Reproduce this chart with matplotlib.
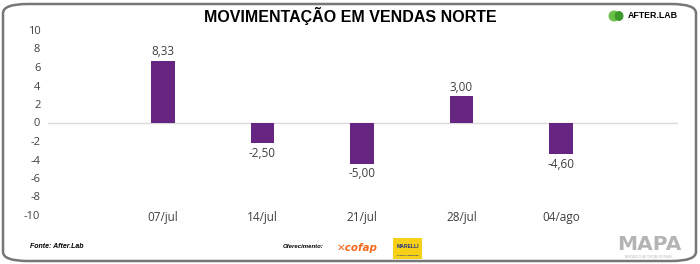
import matplotlib
matplotlib.use("Agg")
import matplotlib.pyplot as plt
from matplotlib.patches import FancyBboxPatch, Rectangle, Ellipse

# dados do gráfico
weeks = ["07/jul", "14/jul", "21/jul", "28/jul", "04/ago"]
label_values = [8.33, -2.50, -5.00, 3.00, -4.60]
# alturas das barras como aparecem no desenho (eixo de -10 a 10)
bar_heights = [6.65, -2.25, -4.5, 2.85, -3.45]
y_ticks = [10, 8, 6, 4, 2, 0, -2, -4, -6, -8, -10]

PURPLE = "#652581"
TEXT = "#404040"
W, H = 700, 264


def fx(px):
    return px / W


def fy(py):
    return 1 - py / H


fig = plt.figure(figsize=(7, 2.64), dpi=100)

# moldura arredondada
frame = FancyBboxPatch((fx(3), 3 / H), 693 / W, 257 / H,
                       boxstyle="round,pad=0,rounding_size=0.035",
                       transform=fig.transFigure, facecolor="none",
                       edgecolor="#777777", linewidth=1.8, zorder=5)
fig.patches.append(frame)

ax = fig.add_axes([fx(48), 49 / H, 630 / W, 185 / H])
ax.set_facecolor("none")
x = list(range(len(weeks)))
ax.bar(x, bar_heights, width=0.237, color=PURPLE, zorder=3)
ax.axhline(0, color="#d9d9d9", linewidth=1.0, zorder=2)

for xi, h, v in zip(x, bar_heights, label_values):
    txt = f"{v:.2f}".replace(".", ",")
    off = 6.5 if h >= 0 else -7
    ax.annotate(txt, (xi, h), xytext=(0, off), textcoords="offset points",
                ha="center", va="center", fontsize=8.5, color=TEXT,
                family="Open Sans")

ax.set_xlim(-1.156, 5.176)
ax.set_ylim(-10, 10)
ax.set_yticks(y_ticks)
ax.set_yticklabels([str(t) for t in y_ticks], family="Open Sans", fontsize=8, color=TEXT)
ax.set_xticks(x)
ax.set_xticklabels(weeks, family="Open Sans", fontsize=8.5, color=TEXT, va="center")
ax.tick_params(axis="y", length=0, pad=5.5)
ax.tick_params(axis="x", length=0, pad=1.5)
for s in ax.spines.values():
    s.set_visible(False)

# título
fig.text(fx(350), fy(16), "MOVIMENTAÇÃO EM VENDAS NORTE", ha="center", va="center",
         fontsize=11.5, fontweight="bold", family="Liberation Sans", color="black")

# logo AFTER.LAB
fig.patches.append(Ellipse((fx(614), fy(16)), 11 / W, 11 / H, transform=fig.transFigure,
                           facecolor="#6cc04a", edgecolor="none"))
fig.patches.append(Ellipse((fx(619), fy(16)), 9 / W, 10 / H, transform=fig.transFigure,
                           facecolor="#3d9a2a", edgecolor="none"))
fig.text(fx(628), fy(16), "AFTER.LAB", ha="left", va="center", fontsize=6.3,
         fontweight="bold", family="Liberation Sans", color="black")

# rodapé
fig.text(fx(30), fy(246), "Fonte: After.Lab", ha="left", va="center", fontsize=5,
         fontweight="bold", style="italic", family="Liberation Sans")
fig.text(fx(283), fy(247), "Oferecimento:", ha="left", va="center", fontsize=4.3,
         fontweight="bold", style="italic", family="Liberation Sans")
fig.text(fx(337), fy(248), "✕cofap", ha="left", va="center", fontsize=7.5,
         fontweight="bold", style="italic", family="DejaVu Sans", color="#f26a21")
fig.patches.append(Rectangle((fx(393), fy(259)), 29 / W, 21 / H,
                             transform=fig.transFigure, facecolor="#f7d117", edgecolor="none"))
fig.text(fx(407.5), fy(246), "MARELLI", ha="center", va="center", fontsize=3.6,
         fontweight="bold", family="Liberation Sans", color="#1c2d8c")
fig.text(fx(407.5), fy(255), "PARTS & SERVICES", ha="center", va="center", fontsize=1.6,
         fontweight="bold", family="Liberation Sans", color="#1c2d8c")
fig.text(fx(649), fy(245), "MAPA", ha="center", va="center", fontsize=14.5,
         fontweight="bold", family="DejaVu Sans", color="#b4b4b4")
fig.text(fx(649), fy(257), "MERCADO DE AUTOPEÇAS NO BRASIL", ha="center", va="center",
         fontsize=1.8, family="Liberation Sans", color="#b4b4b4")

fig.savefig("out.png", dpi=100)
